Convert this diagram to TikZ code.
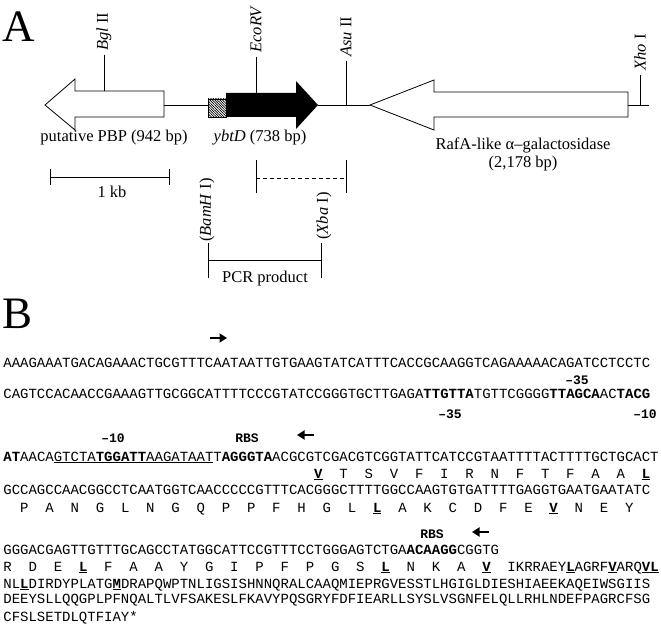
\documentclass[tikz,border=0pt]{standalone}
\usepackage{fontspec}
\setmainfont{Liberation Serif}
\setmonofont{Liberation Mono}
\usetikzlibrary{arrows.meta,patterns.meta}
\newcommand{\bu}[1]{\textbf{\underline{#1}}}
\tikzset{
  site/.style={rotate=90, anchor=west, inner sep=0pt, font=\fontsize{16.5}{16.5}\selectfont},
  lbl/.style={anchor=base, inner sep=0pt, font=\fontsize{16.5}{16.5}\selectfont},
  seq/.style={anchor=base west, inner sep=0pt, font=\ttfamily\fontsize{14}{14}\selectfont},
  tag/.style={anchor=base, inner sep=0pt, font=\ttfamily\bfseries\fontsize{13}{13}\selectfont},
  panel/.style={anchor=base west, inner sep=0pt, font=\fontsize{45}{45}\selectfont},
  primer/.style={line width=2.6pt, -{Triangle[length=7.5pt,width=9pt]}},
  hatch/.style={pattern={Lines[angle=-45, distance=1.8pt, line width=0.7pt]}},
}
\begin{document}
\begin{tikzpicture}[x=1pt, y=-1pt, line width=0.8pt]
    \useasboundingbox[fill=white] (0,0) rectangle (661,631);
    % panel A: map
    \node[panel] (pa) at (2,42) {A};
    \draw (164,105) -- (208,105);
    \draw (318,105) -- (370,105);
    \draw (628,105) -- (649,105);
    \draw[fill=white] (164,91) -- (75,91) -- (75,79) -- (45,105) -- (75,130) -- (75,117) -- (164,117) -- cycle;
    \draw[hatch] (208,99) rectangle (226,117);
    \fill (226,93) -- (296,93) -- (296,81) -- (318,105) -- (296,129) -- (296,117) -- (226,117) -- cycle;
    \draw[fill=white] (628,92) -- (434,92) -- (434,80) -- (370,105) -- (434,130) -- (434,117) -- (628,117) -- cycle;
    \foreach \x/\ya/\yb/\lab in {104/55/91/{\textit{Bgl} II}, 256/57/93/{\textit{EcoRV}},
        346/61/105/{\textit{Asu} II}, 640/75/105/{\textit{Xho} I}}
    {
    \draw (\x,\ya) -- (\x,\yb);
    \node[site] at (\x,\ya-4) {\lab};
    }
    \node[lbl] (pbp) at (114,142) {putative PBP (942 bp)};
    \node[lbl] (ybt) at (260,142) {\textit{ybtD} (738 bp)};
    \node[lbl] (raf) at (523,150) {RafA-like α–galactosidase};
    \node[lbl] (rafbp) at (523,168) {(2,178 bp)};
    % scale bar
    \draw (50,177) -- (169,177);
    \foreach \x in {50,169}
    \draw (\x,169) -- (\x,185);
    \node[lbl] (kb) at (112,198) {1 kb};
    % probe
    \draw[dash pattern=on 4pt off 3pt] (256,178) -- (346,178);
    \foreach \x in {256,346}
    \draw (\x,160) -- (\x,193);
    \node[site, anchor=center] (bam) at (207,210) {(\textit{BamH} I)};
    \node[site, anchor=center] (xba) at (324,216) {(\textit{Xba} I)};
    % PCR product
    \draw (208,260) -- (321,260);
    \foreach \x in {208,321}
    \draw (\x,243) -- (\x,278);
    \node[lbl] (pcr) at (265,282) {PCR product};
    % panel B: sequence
    \node[panel] (pb) at (2,328) {B};
    \draw[primer] (210,338) -- (227,338);
    \draw[primer] (314,435) -- (297,435);
    \draw[primer] (489,532) -- (472,532);
    \node[tag] at (577,384) {–35};
    \node[tag] at (450,418) {–35};
    \node[tag] at (645,418) {–10};
    \node[tag] at (113,442) {–10};
    \node[tag] at (247,442) {RBS};
    \node[tag] at (432,538) {RBS};
    \node[seq] (l1) at (3,367) {AAAGAAATGACAGAAACTGCGTTTCAATAATTGTGAAGTATCATTTCACCGCAAGGTCAGAAAAACAGATCCTCCTC};
    \node[seq] (l2) at (3,398) {CAGTCCACAACCGAAAGTTGCGGCATTTTCCCGTATCCGGGTGCTTGAGA\textbf{TTGTTA}TGTTCGGGG\textbf{TTAGCA}AC\textbf{TACG}};
    \node[seq] (l3) at (3,461) {\textbf{AT}AACA\underline{GTCTA\textbf{TGGATT}AAGATAAT}T\textbf{AGGGTA}ACGCGTCGACGTCGGTATTCATCCGTAATTTTACTTTTGCTGCACT};
    \node[seq] (l4) at (313.8,478) {\bu{V}~~T~~S~~V~~F~~I~~R~~N~~F~~T~~F~~A~~A~~\bu{L}};
    \node[seq] (l5) at (3,494) {GCCAGCCAACGGCCTCAATGGTCAACCCCCGTTTCACGGGCTTTTGGCCAAGTGTGATTTTGAGGTGAATGAATATC};
    \node[seq] (l6) at (19.8,512) {P~~A~~N~~G~~L~~N~~G~~Q~~P~~P~~F~~H~~G~~L~~\bu{L}~~A~~K~~C~~D~~F~~E~~\bu{V}~~N~~E~~Y};
    \node[seq] (l7) at (3,554) {GGGACGAGTTGTTTGCAGCCTATGGCATTCCGTTTCCTGGGAGTCTGA\textbf{ACAAGG}CGGTG};
    \node[seq] (l8) at (3,571) {R~~D~~E~~\bu{L}~~F~~A~~A~~Y~~G~~I~~P~~F~~P~~G~~S~~\bu{L}~~N~~K~~A~~\bu{V}~~IKRRAEY\bu{L}AGRF\bu{V}ARQ\bu{VL}};
    \node[seq] (l9) at (3,588) {NL\bu{L}DIRDYPLATG\bu{M}DRAPQWPTNLIGSISHNNQRALCAAQMIEPRGVESSTLHGIGLDIESHIAEEKAQEIWSGIIS};
    \node[seq] (l10) at (3,603) {DEEYSLLQQGPLPFNQALTLVFSAKESLFKAVYPQSGRYFDFIEARLLSYSLVSGNFELQLLRHLNDEFPAGRCFSG};
    \node[seq] (l11) at (3,621) {CFSLSETDLQTFIAY*};
\end{tikzpicture}
\end{document}
